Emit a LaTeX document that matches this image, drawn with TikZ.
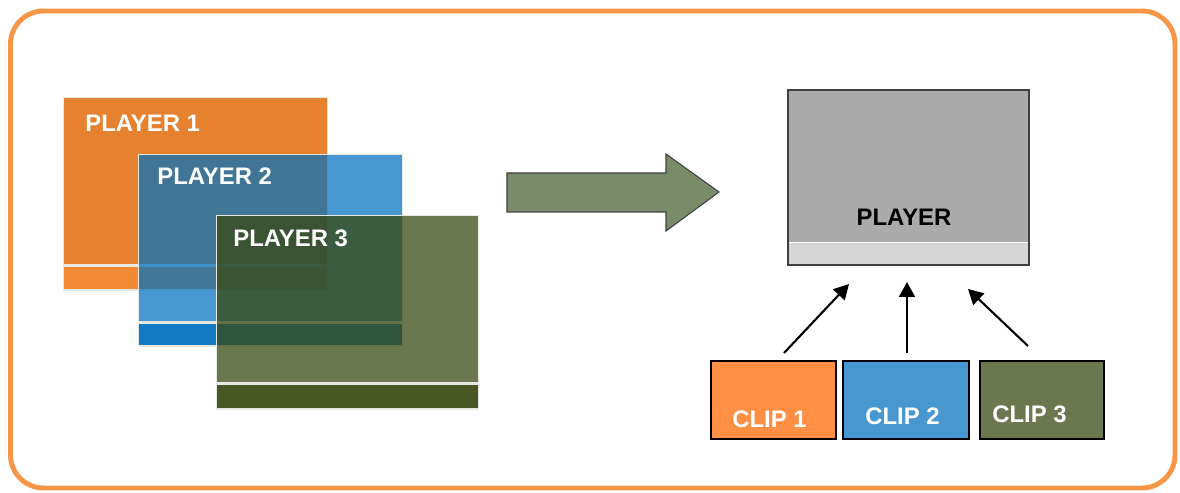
\documentclass[tikz,border=0pt]{standalone}
\usepackage{fontspec}
\setmainfont{Liberation Sans}
\usetikzlibrary{arrows.meta}

\definecolor{frameorange}{RGB}{247,150,70}
\definecolor{edgegray}{RGB}{232,232,226}
\definecolor{oneorange}{RGB}{230,130,47}
\definecolor{onebar}{RGB}{242,138,53}
\definecolor{twoblue}{RGB}{0,112,190}
\definecolor{threegreen}{RGB}{57,73,19}
\definecolor{mergegreen}{RGB}{122,139,106}
\definecolor{playergray}{RGB}{171,171,171}
\definecolor{playerbar}{RGB}{214,214,214}
\definecolor{playeredge}{RGB}{64,64,64}
\definecolor{cliporange}{RGB}{255,143,69}
\definecolor{clipblue}{RGB}{72,151,208}
\definecolor{clipgreen}{RGB}{107,119,78}

\begin{document}
\begin{tikzpicture}[x=0.02cm, y=-0.02cm, font=\fontsize{13.6}{16}\selectfont\bfseries,
  screen/.style={rectangle, inner sep=0pt, anchor=north west, draw=edgegray, line width=0.8pt,
    minimum width=5.28cm, minimum height=3.34cm},
  ctrlbar/.style={rectangle, inner sep=0pt, anchor=north, draw=edgegray, line width=0.8pt,
    minimum width=5.28cm, minimum height=0.48cm},
  caption/.style={anchor=base west, inner sep=0pt, text=white},
  clipbox/.style={rectangle, inner sep=0pt, anchor=north west, draw=black, line width=1.1pt,
    minimum width=2.5cm, minimum height=1.56cm},
  feed/.style={-{Triangle[length=8.5pt, width=9pt]}, line width=1.2pt},
]
\useasboundingbox (0,0) rectangle (1180,493);

% outer frame
\draw[frameorange, line width=2.8pt, rounded corners=0.66cm] (10.5,11) rectangle (1175,488);

% stacked players
\node[screen, fill=oneorange] (p1) at (63,97) {};
\node[ctrlbar, fill=onebar] (p1bar) at (p1.south) {};
\node[caption] (p1txt) at (85,132) {PLAYER 1};

\node[screen, fill=twoblue, fill opacity=0.72] (p2) at (138,154) {};
\node[ctrlbar, fill=twoblue, fill opacity=0.93, minimum height=0.46cm] (p2bar) at (p2.south) {};
\node[caption] (p2txt) at (157,185) {PLAYER 2};

\node[screen, fill=threegreen, fill opacity=0.75, minimum width=5.24cm] (p3) at (216,215) {};
\node[ctrlbar, fill=threegreen, fill opacity=0.92, minimum width=5.24cm, minimum height=0.5cm] (p3bar) at (p3.south) {};
\node[caption] (p3txt) at (233,247) {PLAYER 3};

% merge arrow
\draw[playeredge, fill=mergegreen, line width=0.6pt]
(507,173) -- (666,173) -- (666,154) -- (719,192) -- (666,231) -- (666,212) -- (507,212) -- cycle ;

% single player
\node[rectangle, inner sep=0pt, anchor=north west, fill=playergray,
  minimum width=4.8cm, minimum height=3.04cm] (pl) at (788,90) {};
\node[rectangle, inner sep=0pt, anchor=north, fill=playerbar,
  minimum width=4.8cm, minimum height=0.44cm] (plbar) at (pl.south) {};
\draw[playeredge, line width=1.1pt] (pl.north west) rectangle (plbar.south east) ;
\node[anchor=base, inner sep=0pt] (pltxt) at (904,226) {PLAYER};

% clips
\node[clipbox, fill=cliporange] (c1) at (710,360) {};
\node[clipbox, fill=clipblue, minimum width=2.52cm] (c2) at (842,360) {};
\node[clipbox, fill=clipgreen, minimum width=2.48cm] (c3) at (979,360) {};
\node[caption] (c1txt) at (732,427) {CLIP 1};
\node[caption] (c2txt) at (865,424) {CLIP 2};
\node[caption] (c3txt) at (992,422) {CLIP 3};

% feeds into player
\coordinate (f1s) at (784,353) ;
\coordinate (f1e) at (849,284) ;
\coordinate (f2s) at (907,353) ;
\coordinate (f2e) at (907,282) ;
\coordinate (f3s) at (1028,346) ;
\coordinate (f3e) at (968,289) ;
\draw[feed] (f1s) -- (f1e) ;
\draw[feed] (f2s) -- (f2e) ;
\draw[feed] (f3s) -- (f3e) ;

\end{tikzpicture}
\end{document}
